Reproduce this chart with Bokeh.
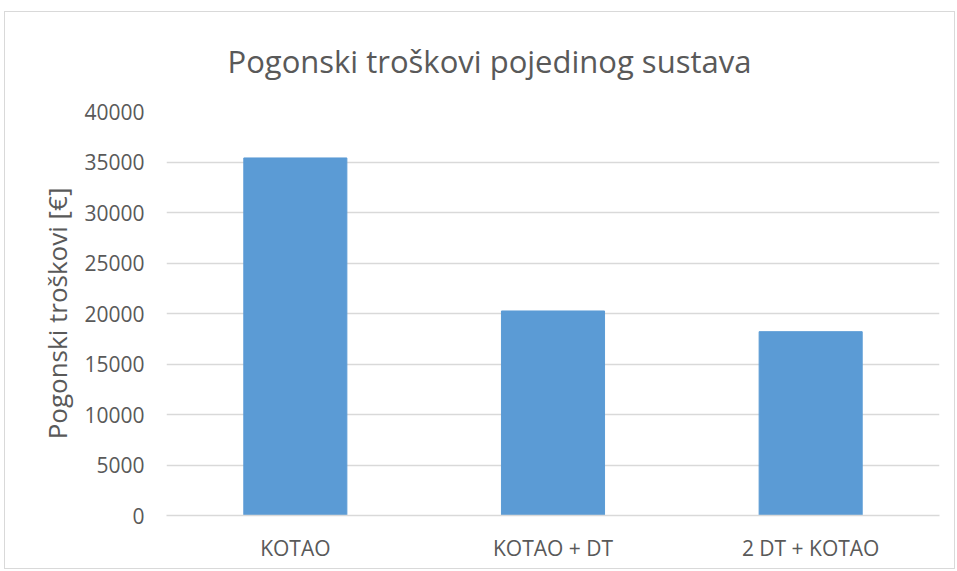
from bokeh.plotting import figure
from bokeh.models import FactorRange, Range1d
from bokeh.embed import file_html
from bokeh.resources import INLINE

categories = ["KOTAO", "KOTAO + DT", "2 DT + KOTAO"]
values = [35400, 20250, 18200]
y_ticks = [0, 5000, 10000, 15000, 20000, 25000, 30000, 35000, 40000]

FONT = "Open Sans"
GREY = "#595959"

p = figure(
    x_range=FactorRange(*categories, range_padding=0),
    y_range=Range1d(0, 40000),
    width=951, height=558,
    output_backend="svg", toolbar_location=None,
    min_border_left=161, min_border_right=17,
    min_border_top=99, min_border_bottom=55,
    title="Pogonski troškovi pojedinog sustava",
)
p.margin = (11, 0, 0, 4)
p.vbar(x=categories, top=values, width=0.4, fill_color="#5b9bd5", line_color="#5b9bd5")

p.title.text_font = FONT
p.title.text_font_size = "31px"
p.title.text_font_style = "normal"
p.title.text_color = GREY
p.title.align = "left"
p.title.offset = 61
p.title.vertical_align = "top"
p.title.standoff = 55

p.outline_line_color = None
p.xgrid.grid_line_color = None
p.ygrid.grid_line_color = "#d9d9d9"
p.ygrid.grid_line_width = 1.5
p.yaxis.ticker = y_ticks

p.yaxis.axis_line_color = None
p.yaxis.major_tick_line_color = None
p.yaxis.minor_tick_line_color = None
p.yaxis.major_label_standoff = 16
p.yaxis.major_label_text_font = FONT
p.yaxis.major_label_text_font_size = "21px"
p.yaxis.major_label_text_color = GREY
p.yaxis.axis_label = "Pogonski troškovi [€]"
p.yaxis.axis_label_text_font = FONT
p.yaxis.axis_label_text_font_size = "26px"
p.yaxis.axis_label_text_font_style = "normal"
p.yaxis.axis_label_text_color = GREY
p.yaxis.axis_label_standoff = 6

p.xaxis.axis_line_color = "#d9d9d9"
p.xaxis.axis_line_width = 1.5
p.xaxis.major_tick_line_color = None
p.xaxis.minor_tick_line_color = None
p.xaxis.major_label_standoff = 12
p.xaxis.major_label_text_font = FONT
p.xaxis.major_label_text_font_size = "21px"
p.xaxis.major_label_text_color = GREY

p.styles = {"border": "1px solid #d9d9d9"}

open("out.html", "w").write(file_html(p, INLINE))
